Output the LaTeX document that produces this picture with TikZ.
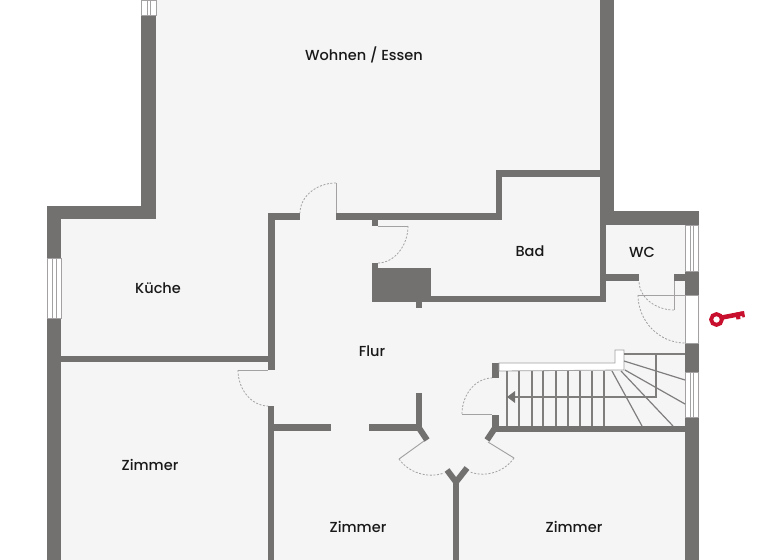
\documentclass[tikz,border=0pt]{standalone}
\usepackage{fontspec}
\setmainfont{Poppins Medium}
\usetikzlibrary{arrows.meta}
\definecolor{mwall}{HTML}{737070}
\definecolor{mfloor}{HTML}{F5F5F5}
\definecolor{mline}{HTML}{A3A1A1}
\definecolor{mstair}{HTML}{807D7D}
\definecolor{mkey}{HTML}{C8102E}
\tikzset{wall/.style = {fill=mwall}}
\tikzset{thinwall/.style = {draw=mwall, line width=4.5pt}}
\tikzset{leaf/.style = {draw=mline, line width=0.7pt}}
\tikzset{swing/.style = {draw=mline, line width=0.6pt, dash pattern=on 1.5pt off 1.2pt}}
\tikzset{pane/.style = {fill=white, draw=mline, line width=0.6pt}}
\tikzset{tread/.style = {draw=mstair, line width=0.9pt}}
\tikzset{room/.style = {font=\fontsize{10.9}{12}\selectfont, text=black!90}}

\begin{document}
\begin{tikzpicture}[x=0.75pt, y=-0.75pt]
    \useasboundingbox (0, 0) rectangle (768, 560);
    \fill [white] (0, 0) rectangle (768, 560);
    \fill [mfloor] (141, 0) -- (613, 0) -- (613, 211) -- (699, 211) -- (699, 560)
      -- (47, 560) -- (47, 206) -- (141, 206) -- cycle;

    % outer walls
    \fill [wall] (141, 15) rectangle (156, 219);
    \fill [wall] (47, 206) rectangle (156, 219);
    \fill [wall] (47, 206) rectangle (61, 560);
    \fill [wall] (600, 0) rectangle (614, 225);
    \fill [wall] (600, 211) rectangle (699, 225);
    \fill [wall] (685, 225) rectangle (699, 295);
    \fill [wall] (685, 343) rectangle (699, 372);
    \fill [wall] (685, 417) rectangle (699, 560);

    % inner walls
    \fill [wall] (61, 356) rectangle (275, 362);
    \fill [wall] (268, 213) rectangle (275, 370);
    \fill [wall] (268, 213) rectangle (300, 220);
    \fill [wall] (336, 213) rectangle (502, 220);
    \fill [wall] (496, 170) rectangle (502, 220);
    \fill [wall] (496, 170) rectangle (606, 177);
    \fill [wall] (600, 170) rectangle (606, 302);
    \fill [wall] (431, 296) rectangle (606, 302);
    \fill [wall] (606, 274) rectangle (639, 281);
    \fill [wall] (674, 274) rectangle (685, 281);
    \fill [wall] (372, 220) rectangle (378, 226);
    \fill [wall] (372, 263) rectangle (378, 268);
    \fill [wall] (372, 268) rectangle (431, 302);
    \fill [wall] (416, 302) rectangle (422, 308);
    \fill [wall] (268, 406) rectangle (274, 560);
    \fill [wall] (274, 424) rectangle (331, 431);
    \fill [wall] (369, 424) rectangle (422, 431);
    \fill [wall] (416, 393) rectangle (422, 431);
    \fill [wall] (492, 363) rectangle (499, 378);
    \fill [wall] (492, 415) rectangle (499, 432);
    \fill [wall] (492, 426) rectangle (685, 432);
    \fill [wall] (453, 482) rectangle (459, 560);
    \draw [thinwall] (419, 428) -- (427, 440);
    \draw [thinwall] (495, 428) -- (487, 440);
    \draw [thinwall] (456, 482) -- (447, 470);
    \draw [thinwall] (456, 482) -- (467, 468);

    % windows
    \foreach \ya/\yb in {225/271, 372/417} {
      \draw [pane] (685, \ya) rectangle (698, \yb);
      \draw [leaf] (690, \ya) -- (690, \yb);
      \draw [leaf] (693, \ya) -- (693, \yb);
    }
    \draw [pane] (47, 258) rectangle (61, 318);
    \draw [leaf] (52, 258) -- (52, 318);
    \draw [leaf] (56, 258) -- (56, 318);
    \draw [pane] (141, 0) rectangle (156, 15);
    \draw [leaf] (147, 0) -- (147, 15);
    \draw [leaf] (150, 0) -- (150, 15);
    \draw [pane] (685, 295) rectangle (698, 343);

    % doors
    \draw [leaf] (336, 213) -- (336, 183);
    \draw [swing] (336, 183) .. controls (316, 183) and (300, 197) .. (300, 213);
    \draw [leaf] (378, 226) -- (408, 226);
    \draw [swing] (408, 226) .. controls (408, 246) and (394, 263) .. (378, 263);
    \draw [leaf] (268, 370) -- (238, 370);
    \draw [swing] (238, 370) .. controls (238, 390) and (252, 406) .. (268, 406);
    \draw [leaf] (492, 414) -- (462, 414);
    \draw [swing] (462, 414) .. controls (462, 394) and (476, 378) .. (492, 378);
    \draw [leaf] (424, 441) -- (399, 459);
    \draw [swing] (399, 459) .. controls (408, 472) and (427, 479) .. (444, 473);
    \draw [leaf] (488, 442) -- (514, 458);
    \draw [swing] (514, 458) .. controls (505, 471) and (487, 478) .. (470, 472);
    \draw [leaf] (674, 281) -- (674, 310);
    \draw [swing] (674, 310) .. controls (655, 310) and (639, 297) .. (639, 281);
    \draw [leaf] (638, 295) -- (685, 295);
    \draw [swing] (638, 295) .. controls (638, 321) and (659, 343) .. (685, 343);

    % stairs
    \draw [pane, draw=mline] (499, 363) -- (615, 363) -- (615, 350) -- (624, 350)
      -- (624, 370) -- (499, 371) -- cycle;
    \foreach \x in {507, 519, 532, 543, 556, 568, 580, 592, 604} {
      \draw [tread] (\x, 371) -- (\x, 426);
    }
    \draw [tread] (612, 371) -- (642, 426);
    \draw [tread] (621, 371) -- (673, 426);
    \draw [tread] (625, 370) -- (685, 404);
    \draw [tread] (624, 361) -- (685, 380);
    \draw [tread] (624, 354) -- (685, 354);
    \draw [tread] (656, 354) -- (656, 397) -- (512, 397);
    \fill [mwall] (507, 397) -- (515, 391) -- (515, 403) -- cycle;

    % key
    \draw [mkey, line width=2.9pt] (716.5, 319.5) circle [radius=5.4];
    \draw [mkey, line width=3.4pt] (722, 317.5) -- (743, 313.5);
    \fill [mkey] (735, 313) -- (744, 311) -- (745, 317) -- (742.5, 317.5) -- (742, 315.5)
      -- (740, 316) -- (740.5, 319) -- (736.5, 319.5) -- cycle;

    % labels
    \node [room] (wohnen) at (364, 55) {Wohnen / Essen};
    \node [room] (kueche) at (158, 288) {Küche};
    \node [room] (bad) at (530, 251) {Bad};
    \node [room] (wc) at (642, 252) {WC};
    \node [room] (flur) at (372, 351) {Flur};
    \node [room] (zimmera) at (150, 465) {Zimmer};
    \node [room] (zimmerb) at (358, 527) {Zimmer};
    \node [room] (zimmerc) at (574, 527) {Zimmer};
\end{tikzpicture}
\end{document}
